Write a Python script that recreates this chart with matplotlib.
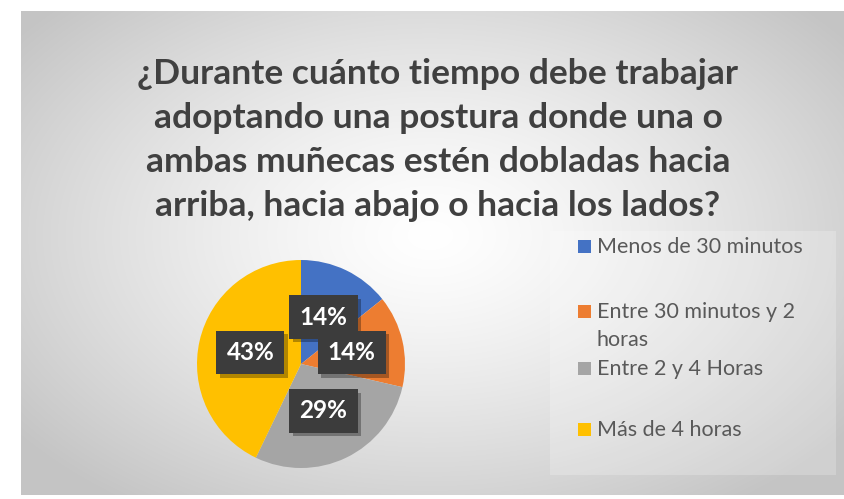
import numpy as np
import matplotlib
matplotlib.use("Agg")
import matplotlib.pyplot as plt
from matplotlib.patches import Rectangle
import matplotlib.patheffects as pe

title = "¿Durante cuánto tiempo debe trabajar\nadoptando una postura donde una o\nambas muñecas estén dobladas hacia\narriba, hacia abajo o hacia los lados?"
categories = ["Menos de 30 minutos", "Entre 30 minutos y 2\nhoras", "Entre 2 y 4 Horas", "Más de 4 horas"]
values = [1, 1, 2, 3]
colors = ["#4472C4", "#ED7D31", "#A5A5A5", "#FFC000"]

W, H = 845, 499
fig = plt.figure(figsize=(W / 100, H / 100), dpi=100)
fig.patch.set_facecolor("white")

# background chart area with radial gradient
x0, y0, x1, y1 = 21, 11, 845, 495  # pixel coords (top-left origin)
bg = fig.add_axes([x0 / W, (H - y1) / H, (x1 - x0) / W, (y1 - y0) / H])
xx, yy = np.meshgrid(np.arange(x0, x1), np.arange(y0, y1))
d = np.sqrt(((xx - 430) / 520.0) ** 2 + ((yy - 235) / 330.0) ** 2)
v = 1.0 - (1.0 - 0.77) * np.clip(d, 0, 1) ** 1.3
img = np.dstack([v, v, v])
bg.imshow(img, aspect="auto", interpolation="bilinear")
bg.set_axis_off()

# title
fig.text(438 / W, 1 - 140 / H, title, ha="center", va="center",
         fontsize=25.5, fontweight="bold", color="#404040", family="Lato",
         linespacing=1.47)

# pie
cx, cy, r = 301, 364, 104
ax = fig.add_axes([(cx - r) / W, (H - cy - r) / H, 2 * r / W, 2 * r / H])
ax.set_facecolor("none")
wedges, texts, autotexts = ax.pie(values, colors=colors, startangle=90, counterclock=False,
                                  autopct=lambda p: f"{p:.0f}%", pctdistance=0.5,
                                  wedgeprops=dict(linewidth=0))
ax.set_xlim(-1, 1)
ax.set_ylim(-1, 1)
for t in autotexts:
    t.set_color("white")
    t.set_fontsize(17.5)
    t.set_fontweight("bold")
    t.set_family("Lato")
    t.set_bbox(dict(boxstyle="square,pad=0.42", fc="#3c3c3c", ec="none"))
    t.get_bbox_patch().set_path_effects([
        pe.SimplePatchShadow(offset=(2.5, -2.5), shadow_rgbFace="black", alpha=0.3),
        pe.Normal()])
    t.set_zorder(5)

# legend box
lx0, ly0, lx1, ly1 = 550, 231, 836, 475
fig.patches.append(Rectangle((lx0 / W, 1 - ly1 / H), (lx1 - lx0) / W, (ly1 - ly0) / H,
                             transform=fig.transFigure, fc="white", alpha=0.22, ec="none", zorder=1))
entry_y = [246, 311, 368, 429]
for lab, col, ey in zip(categories, colors, entry_y):
    fig.patches.append(Rectangle((578 / W, 1 - (ey + 7) / H), 13 / W, 13 / H,
                                 transform=fig.transFigure, fc=col, ec="none", zorder=2))
    fig.text(597 / W, 1 - (ey - 9) / H, lab, ha="left", va="top", fontsize=15.5,
             color="#595959", family="Lato", linespacing=1.5)

fig.savefig("out.png", dpi=100)
